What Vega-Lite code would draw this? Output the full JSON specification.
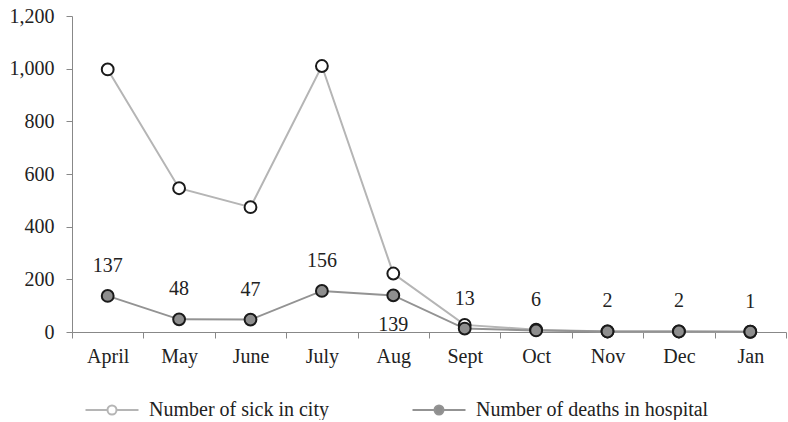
{
  "$schema": "https://vega.github.io/schema/vega-lite/v6.json",
  "width": 714,
  "height": 316,
  "padding": {"left": 9, "top": 6, "right": 0, "bottom": 0},
  "background": "white",
  "config": {
    "view": {"stroke": null},
    "font": "Times New Roman, serif",
    "axis": {"labelFont": "Times New Roman, serif", "labelFontSize": 20, "labelColor": "#222", "domainColor": "#888", "tickColor": "#888", "grid": false, "title": null, "tickSize": 6}
  },
  "data": {
    "values": [
      {"month": "April", "series": "Number of sick in city", "value": 997},
      {"month": "May", "series": "Number of sick in city", "value": 546},
      {"month": "June", "series": "Number of sick in city", "value": 474},
      {"month": "July", "series": "Number of sick in city", "value": 1010},
      {"month": "Aug", "series": "Number of sick in city", "value": 222},
      {"month": "Sept", "series": "Number of sick in city", "value": 27},
      {"month": "Oct", "series": "Number of sick in city", "value": 9},
      {"month": "Nov", "series": "Number of sick in city", "value": 2},
      {"month": "Dec", "series": "Number of sick in city", "value": 2},
      {"month": "Jan", "series": "Number of sick in city", "value": 1},
      {"month": "April", "series": "Number of  deaths in hospital", "value": 137, "label": "137"},
      {"month": "May", "series": "Number of  deaths in hospital", "value": 48, "label": "48"},
      {"month": "June", "series": "Number of  deaths in hospital", "value": 47, "label": "47"},
      {"month": "July", "series": "Number of  deaths in hospital", "value": 156, "label": "156"},
      {"month": "Aug", "series": "Number of  deaths in hospital", "value": 139, "label": "139"},
      {"month": "Sept", "series": "Number of  deaths in hospital", "value": 13, "label": "13"},
      {"month": "Oct", "series": "Number of  deaths in hospital", "value": 6, "label": "6"},
      {"month": "Nov", "series": "Number of  deaths in hospital", "value": 2, "label": "2"},
      {"month": "Dec", "series": "Number of  deaths in hospital", "value": 2, "label": "2"},
      {"month": "Jan", "series": "Number of  deaths in hospital", "value": 1, "label": "1"}
    ]
  },
  "encoding": {
    "x": {
      "field": "month", "type": "nominal",
      "sort": ["April", "May", "June", "July", "Aug", "Sept", "Oct", "Nov", "Dec", "Jan"],
      "scale": {"type": "band", "paddingInner": 0, "paddingOuter": 0},
      "axis": {"labelAngle": 0, "tickBand": "extent", "labelPadding": 8}
    },
    "y": {
      "field": "value", "type": "quantitative",
      "scale": {"domain": [0, 1200], "nice": false},
      "axis": {"values": [0, 200, 400, 600, 800, 1000, 1200], "format": ",d", "labelPadding": 12}
    }
  },
  "layer": [
    {
      "mark": {"type": "line", "strokeWidth": 2},
      "encoding": {
        "stroke": {
          "field": "series", "type": "nominal",
          "scale": {"domain": ["Number of sick in city", "Number of  deaths in hospital"], "range": ["#b5b5b5", "#939393"]},
          "legend": {
            "title": null,
            "orient": "none",
            "legendX": 29,
            "legendY": 383,
            "direction": "horizontal",
            "columns": 2,
            "columnPadding": 79,
            "padding": 0,
            "labelFont": "Times New Roman, serif",
            "labelFontSize": 20,
            "labelColor": "#222",
            "labelLimit": 0,
            "labelOffset": 26,
            "symbolType": "M-2.65,0H-0.45M0.45,0H2.65M-0.45,0A0.45,0.45 0 1,0 0.45,0A0.45,0.45 0 1,0 -0.45,0Z",
            "symbolSize": 400,
            "symbolStrokeWidth": 2,
            "encode": {
              "symbols": {
                "update": {
                  "fill": [
                    {"test": "datum.value === 'Number of sick in city'", "value": "white"},
                    {"value": "#8e8e8e"}
                  ],
                  "stroke": {"value": "#444"},
                  "fillOpacity": {"value": 1}
                }
              }
            }
          }
        }
      }
    },
    {
      "mark": {"type": "point", "filled": true, "size": 140, "stroke": "#1a1a1a", "strokeWidth": 2, "opacity": 1},
      "encoding": {
        "fill": {
          "field": "series", "type": "nominal",
          "scale": {"domain": ["Number of sick in city", "Number of  deaths in hospital"], "range": ["white", "#8e8e8e"]},
          "legend": null
        },
        "shape": {"value": "circle"},
        "order": {"field": "series", "sort": "descending"}
      }
    },
    {
      "transform": [{"filter": "datum.label != null && datum.month != 'Aug'"}],
      "mark": {"type": "text", "dy": -30, "fontSize": 20, "font": "Times New Roman, serif", "color": "#222"},
      "encoding": {"text": {"field": "label"}}
    },
    {
      "transform": [{"filter": "datum.label != null && datum.month == 'Aug'"}],
      "mark": {"type": "text", "dy": 30, "fontSize": 20, "font": "Times New Roman, serif", "color": "#222"},
      "encoding": {"text": {"field": "label"}}
    }
  ]
}
